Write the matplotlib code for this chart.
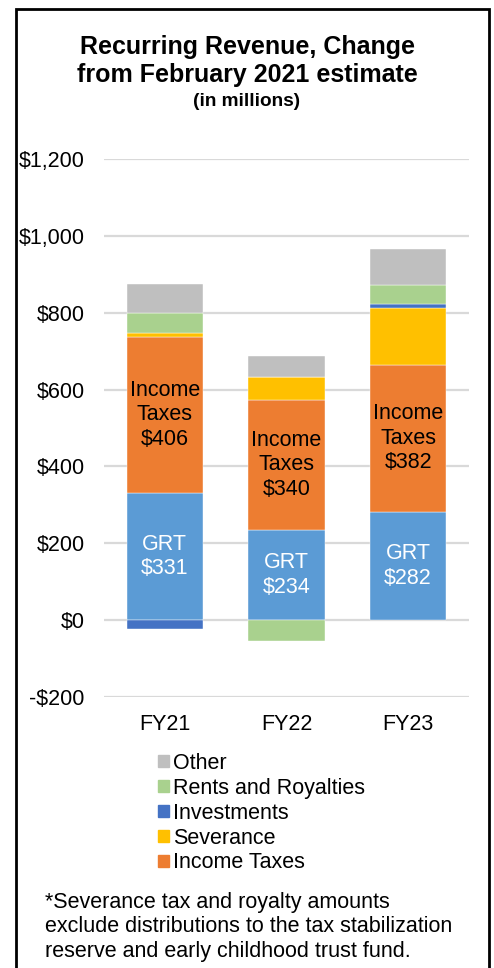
import numpy as np
import matplotlib.pyplot as plt
from matplotlib.patches import Rectangle, Patch

plt.rcParams['font.family'] = ['Liberation Sans', 'DejaVu Sans']

# Data (in $ millions)
years = ['FY21', 'FY22', 'FY23']
grt = [331, 234, 282]
income_taxes = [406, 340, 382]
severance = [9, 59, 147]
investments = [-22, 0, 12]
rents_royalties = [52, -55, 50]
other = [78, 55, 92]

series = [
    ('GRT', grt, '#5B9BD5'),
    ('Income Taxes', income_taxes, '#ED7D31'),
    ('Severance', severance, '#FFC000'),
    ('Investments', investments, '#4472C4'),
    ('Rents and Royalties', rents_royalties, '#A9D18E'),
    ('Other', other, '#BFBFBF'),
]

FS = 15.5

fig = plt.figure(figsize=(4.94, 9.68), dpi=100)
ax = fig.add_axes([104 / 494, 1 - 697 / 968, 365 / 494, 538 / 968])

x = np.arange(len(years))
width = 0.63
pos_base = np.zeros(len(years))
neg_base = np.zeros(len(years))
mids = {}
for name, vals, color in series:
    vals = np.array(vals, dtype=float)
    bottoms = np.where(vals >= 0, pos_base, neg_base)
    ax.bar(x, vals, width, bottom=bottoms, color=color, zorder=3,
           edgecolor='white', linewidth=0.3)
    mids[name] = bottoms + vals / 2
    pos_base = pos_base + np.where(vals > 0, vals, 0)
    neg_base = neg_base + np.where(vals < 0, vals, 0)

# segment labels
for i in range(len(years)):
    ax.text(x[i], mids['GRT'][i], f'GRT\n${grt[i]}', ha='center', va='center',
            color='white', fontsize=FS, linespacing=1.22, zorder=4)
    ax.text(x[i], mids['Income Taxes'][i], f'Income\nTaxes\n${income_taxes[i]}',
            ha='center', va='center', color='black', fontsize=FS,
            linespacing=1.22, zorder=4)

ax.set_xlim(-0.5, 2.5)
ax.set_ylim(-200, 1200)
ax.set_yticks(np.arange(-200, 1201, 200))
ax.set_yticklabels([f'-${-v:,}' if v < 0 else f'${v:,}' for v in range(-200, 1201, 200)])
ax.set_xticks(x)
ax.set_xticklabels(years)
ax.tick_params(length=0, labelsize=FS, colors='black')
ax.tick_params(axis='y', pad=14)
ax.tick_params(axis='x', pad=12)
ax.grid(axis='y', color='#D9D9D9', linewidth=1.6, zorder=0)
for s in ax.spines.values():
    s.set_visible(False)

# title
fig.text(0.5, 1 - 47 / 968, 'Recurring Revenue, Change', ha='center', va='center',
         fontsize=18, fontweight='bold')
fig.text(0.5, 1 - 75 / 968, 'from February 2021 estimate', ha='center', va='center',
         fontsize=18, fontweight='bold')
fig.text(0.5, 1 - 101 / 968, '(in millions)', ha='center', va='center',
         fontsize=13.7, fontweight='bold')

# legend (GRT not listed)
handles = [Patch(color=c, label=n) for n, v, c in series[1:]][::-1]
fig.legend(handles=handles, loc='upper left', bbox_to_anchor=(158 / 494, 1 - 753 / 968),
           frameon=False, fontsize=FS, handlelength=0.5, handleheight=0.5,
           handletextpad=0.2, labelspacing=0.18, borderpad=0, borderaxespad=0)

fig.text(45 / 494, 1 - 927 / 968,
         '*Severance tax and royalty amounts\n'
         'exclude distributions to the tax stabilization\n'
         'reserve and early childhood trust fund.',
         ha='left', va='center', fontsize=FS, linespacing=1.22)
# frame
fig.patches.append(Rectangle((16 / 494, -0.01), 473 / 494, 1.01 - 9 / 968,
                             transform=fig.transFigure, fill=False,
                             edgecolor='black', linewidth=2))

fig.savefig('out.png', dpi=100)
